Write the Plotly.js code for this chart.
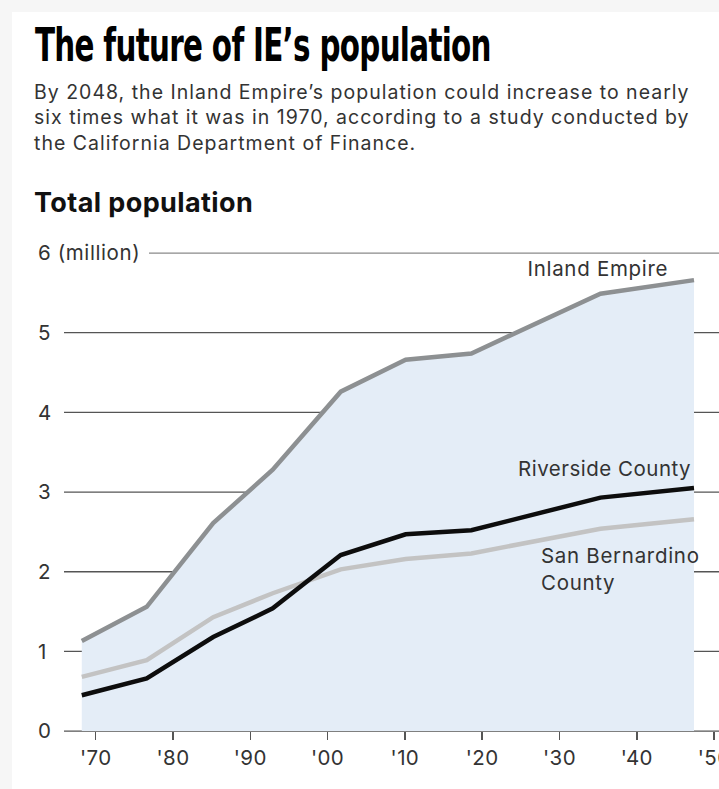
<!DOCTYPE html>
<html><head><meta charset="utf-8">
<script src="https://cdn.plot.ly/plotly-3.0.1.min.js"></script>
<style>
html,body{margin:0;padding:0;background:#f6f6f6;width:719px;height:789px;overflow:hidden;}
#chart{position:absolute;left:12px;top:12px;width:707px;height:777px;background:#fff;}
.gtitle{letter-spacing:-1px;}
.ytick text, .y2tick text{letter-spacing:0.6px;}
.xtick text{letter-spacing:0.4px;}
</style></head><body><div id="chart"></div>
<script>
// ---- data ----
const years = [1968.2, 1976.6, 1985.2, 1992.9, 2001.7, 2010.1, 2018.6, 2035.3, 2047.4];
const inlandEmpire = [1.13, 1.56, 2.61, 3.28, 4.26, 4.66, 4.74, 5.49, 5.66];
const riverside = [0.45, 0.66, 1.18, 1.54, 2.21, 2.47, 2.52, 2.93, 3.05];
const sanBernardino = [0.68, 0.89, 1.43, 1.73, 2.03, 2.16, 2.23, 2.54, 2.66];
const xTickVals = [1970, 1980, 1990, 2000, 2010, 2020, 2030, 2040, 2050];
const xTickText = ["'70", "'80", "'90", "'00", "'10", "'20", "'30", "'40", "'50"];
const yTickVals = [0, 1, 2, 3, 4, 5, 6];
const yTickText = ["0", "1", "2", "3", "4", "5", "6 (million)"];
const seriesNames = ["Inland Empire", "Riverside County", "San Bernardino<br>County"];

// ---- layout geometry (div pixels) ----
const W = 707, H = 777;
const M = {l: 23, r: 0, t: 213, b: 42};
const PW = W - M.l - M.r, PH = H - M.t - M.b;
const OFF = 12;
const YMIN = -0.2, YMAX = YMIN + PH / 79.67;
const XRANGE = [1970 - (95.7 - OFF - M.l) / 7.73, 1970 + (719 - 95.7) / 7.73];
const px = X => (X - OFF - M.l) / PW;          // page x -> paper x
const py = Y => (H - M.b - (Y - OFF)) / PH;     // page y -> paper y

const font = "Inter, 'Open Sans', sans-serif";

const traces = [
  {x: years, y: inlandEmpire, name: seriesNames[0], mode: 'lines', fill: 'tozeroy',
   fillcolor: 'rgb(228,237,247)', line: {color: '#8d9092', width: 4.5}},
  {x: years, y: sanBernardino, name: seriesNames[2], mode: 'lines',
   line: {color: '#c3c3c3', width: 4.5}},
  {x: years, y: riverside, name: seriesNames[1], mode: 'lines',
   line: {color: '#0d0d0d', width: 4.5}},
  // empty trace that only holds the label subplot (x2/y2)
  {x: [], y: [], xaxis: 'x2', yaxis: 'y2', mode: 'lines', hoverinfo: 'skip'}
];

const gridShapes = yTickVals.map(v => ({
  type: 'line', xref: 'paper', yref: 'y', layer: 'below',
  x0: v === 6 ? px(149) : px(64), x1: 1, y0: v, y1: v,
  line: {color: v === 6 ? '#8a8a8a' : '#555', width: 1.3}
}));

const tickFont = {family: font, size: 20.5, color: '#333'};
const last = yTickVals.length - 1;

const layout = {
  width: W, height: H,
  margin: M,
  paper_bgcolor: '#fff', plot_bgcolor: 'rgba(0,0,0,0)',
  showlegend: false,
  title: {
    text: 'The future of IE’s population',
    xref: 'container', yref: 'container', x: (35 - OFF) / W, xanchor: 'left',
    y: 1 - (45 - OFF) / H, yanchor: 'middle',
    font: {family: "'DejaVu Sans Condensed', 'DejaVu Sans', sans-serif",
           size: 47, weight: 'bold', color: '#000'}
  },
  xaxis: {
    range: XRANGE, tickvals: xTickVals, ticktext: xTickText,
    anchor: 'free', position: (0 - YMIN) / (YMAX - YMIN),
    showgrid: false, zeroline: false, showline: false,
    ticks: 'outside', ticklen: 8, tickwidth: 1.5, tickcolor: '#555',
    ticklabeloverflow: 'allow',
    tickfont: tickFont, fixedrange: true
  },
  yaxis: {
    range: [YMIN, YMAX], tickvals: yTickVals.slice(0, last), ticktext: yTickText.slice(0, last),
    showgrid: false, zeroline: false, showline: false,
    ticks: '', ticklabelposition: 'inside',
    tickfont: tickFont, fixedrange: true
  },
  // separate (invisible-x) subplot carrying only the top "6 (million)" label
  xaxis2: {range: XRANGE, anchor: 'y2', visible: false, fixedrange: true},
  yaxis2: {
    range: [YMIN, YMAX], anchor: 'x2', tickvals: [yTickVals[last]], ticktext: [yTickText[last]],
    showgrid: false, zeroline: false, showline: false,
    ticks: '', ticklabelposition: 'inside', ticklabeloverflow: 'allow',
    tickfont: tickFont, fixedrange: true
  },
  shapes: gridShapes,
  annotations: [
    {xref: 'paper', yref: 'paper', x: px(32), y: py(117), xanchor: 'left', yanchor: 'middle',
     align: 'left', showarrow: false,
     text: 'By 2048, the Inland Empire’s population could increase to nearly<br>six times what it was in 1970, according to a study conducted by<br>the California Department of Finance.',
     font: {family: font, size: 19.5, color: '#333'}},
    {xref: 'paper', yref: 'paper', x: px(32), y: py(202), xanchor: 'left', yanchor: 'middle',
     align: 'left', showarrow: false, text: 'Total population',
     font: {family: font, size: 27, weight: 'bold', color: '#111'}},
    {xref: 'x', yref: 'y', x: 2035.0, y: 5.81, xanchor: 'center', yanchor: 'middle',
     showarrow: false, text: seriesNames[0], font: tickFont},
    {xref: 'x', yref: 'y', x: 2035.8, y: 3.30, xanchor: 'center', yanchor: 'middle',
     showarrow: false, text: seriesNames[1], font: tickFont},
    {xref: 'x', yref: 'y', x: 2027.35, y: 2.03, xanchor: 'left', yanchor: 'middle', align: 'left',
     showarrow: false, text: seriesNames[2], font: tickFont}
  ]
};

const annSpacing = ['1px', '0.4px', '0.7px', '0.5px', '0.7px'];

Plotly.newPlot('chart', traces, layout, {displayModeBar: false, staticPlot: true}).then(() => {
  // condense the headline horizontally to the reference width
  const t = document.querySelector('.gtitle');
  if (t) {
    const bb = t.getBBox();
    const s = (491 - 35) / bb.width;
    const prev = t.getAttribute('transform') || '';
    t.setAttribute('transform', prev + ` translate(${bb.x},0) scale(${s},1) translate(${-bb.x},0)`);
  }
  document.querySelectorAll('.annotation-text').forEach((el, i) => {
    el.style.letterSpacing = annSpacing[i] || '0px';
  });
});
</script></body></html>
